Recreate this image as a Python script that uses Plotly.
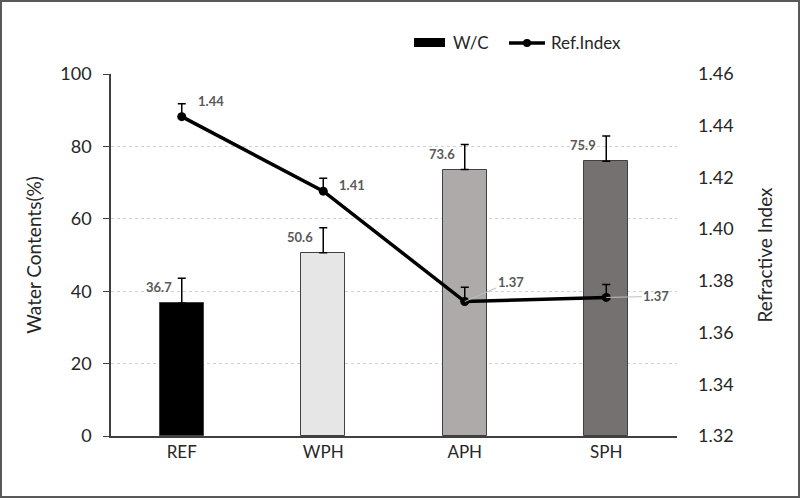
import plotly.graph_objects as go

categories = ["REF", "WPH", "APH", "SPH"]
water_content = [36.7, 50.6, 73.6, 75.9]
water_err = [6.9, 6.9, 6.9, 7.0]
ref_index = [1.4435, 1.4147, 1.3720, 1.3736]
ref_err = [0.005, 0.005, 0.0055, 0.005]
ref_labels = ["1.44", "1.41", "1.37", "1.37"]
bar_colors = ["#000000", "#e7e6e6", "#aeaaaa", "#767171"]
left_ticks = [0, 20, 40, 60, 80, 100]
right_ticks = [1.32, 1.34, 1.36, 1.38, 1.40, 1.42, 1.44, 1.46]

FONT = "Lato"
W, H = 800, 498
L, R, T, B = 111, 123, 74, 62
pw, ph = W - L - R, H - T - B


def px(x):
    return (x - L) / pw


def py(y):
    return 1 - (y - T) / ph


fig = go.Figure()
fig.add_trace(go.Bar(
    x=categories, y=water_content, name="W/C",
    marker=dict(color=bar_colors, line=dict(color="#404040", width=1)),
    width=0.31,
    error_y=dict(type="data", array=water_err, arrayminus=[0]*4, symmetric=False,
                 color="#000000", thickness=1.5, width=4),
    showlegend=False,
))
fig.add_trace(go.Scatter(
    x=categories, y=ref_index, name="Ref.Index", yaxis="y2", mode="lines+markers",
    line=dict(color="#000000", width=3.5), marker=dict(color="#000000", size=9),
    error_y=dict(type="data", array=ref_err, arrayminus=[0]*4, symmetric=False,
                 color="#000000", thickness=1.5, width=4),
    showlegend=False,
))

lab_font = dict(family=FONT, size=13, color="#595959")
for c, v, e in zip(categories, water_content, water_err):
    fig.add_annotation(x=c, y=v + e - 2.5, text=f"<b>{v:.1f}</b>", showarrow=False,
                       xanchor="right", xshift=-8, font=lab_font)
fig.add_annotation(x=categories[0], y=ref_index[0], yref="y2", text="<b>" + ref_labels[0] + "</b>",
                   showarrow=False, xanchor="left", xshift=14, yshift=16, font=lab_font)
fig.add_annotation(x=categories[1], y=ref_index[1], yref="y2", text="<b>" + ref_labels[1] + "</b>",
                   showarrow=False, xanchor="left", xshift=14, yshift=6, font=lab_font)
fig.add_annotation(x=categories[2], y=ref_index[2], yref="y2", text="<b>" + ref_labels[2] + "</b>",
                   showarrow=True, arrowhead=0, arrowcolor="#bfbfbf", arrowwidth=1,
                   ax=46, ay=-20, xanchor="center", font=lab_font)
fig.add_annotation(x=categories[3], y=ref_index[3], yref="y2", text="<b>" + ref_labels[3] + "</b>",
                   showarrow=True, arrowhead=0, arrowcolor="#bfbfbf", arrowwidth=1,
                   ax=50, ay=-1, xanchor="center", font=lab_font)

# manual legend
fig.add_shape(type="rect", xref="paper", yref="paper", x0=px(414), x1=px(445), y0=py(47), y1=py(38),
              fillcolor="#000000", line=dict(width=0))
fig.add_annotation(xref="paper", yref="paper", x=px(451), y=py(43), text="W/C", showarrow=False,
                   xanchor="left", yanchor="middle", font=dict(family=FONT, size=17, color="#262626"))
fig.add_shape(type="line", xref="paper", yref="paper", x0=px(509), x1=px(545), y0=py(43), y1=py(43),
              line=dict(color="#000000", width=3.5))
fig.add_shape(type="circle", xref="paper", yref="paper", x0=px(523), x1=px(531), y0=py(47), y1=py(39),
              fillcolor="#000000", line=dict(width=0))
fig.add_annotation(xref="paper", yref="paper", x=px(549), y=py(43), text="Ref.Index", showarrow=False,
                   xanchor="left", yanchor="middle", font=dict(family=FONT, size=17, color="#262626"))

# outer frame
fig.add_shape(type="rect", xref="paper", yref="paper",
              x0=px(1), x1=px(W - 1), y0=py(H - 1), y1=py(1),
              line=dict(color="#595959", width=2), fillcolor="rgba(0,0,0,0)", layer="below")

fig.update_layout(
    width=W, height=H, margin=dict(l=L, r=R, t=T, b=B, autoexpand=False),
    paper_bgcolor="white", plot_bgcolor="white",
    font=dict(family=FONT, size=17, color="#262626"),
    bargap=0, showlegend=False,
    xaxis=dict(showline=True, linecolor="#404040", linewidth=1.5, ticks="",
               tickfont=dict(size=17), showgrid=False, automargin=False),
    yaxis=dict(range=[0, 100], tickvals=left_ticks, showline=True, linecolor="#404040",
               linewidth=1.5, ticks="outside", ticklen=6, tickcolor="#404040",
               showgrid=True, gridcolor="#d0d0d0", griddash="dot", gridwidth=1,
               title=dict(text="Water Contents(%)", font=dict(size=19), standoff=14),
               zeroline=False, tickfont=dict(size=18), ticklabelstandoff=8, automargin=False),
    yaxis2=dict(range=[1.32, 1.46], tickvals=right_ticks, tickformat=".2f",
                overlaying="y", side="right", showgrid=False, showline=False, zeroline=False,
                title=dict(text="Refractive Index", font=dict(size=19), standoff=26),
                tickfont=dict(size=18), ticklabelstandoff=20, automargin=False),
)

fig.write_html("out.html", config={"displayModeBar": False},
               post_script="document.body.style.margin='0';document.body.style.overflow='hidden';")
